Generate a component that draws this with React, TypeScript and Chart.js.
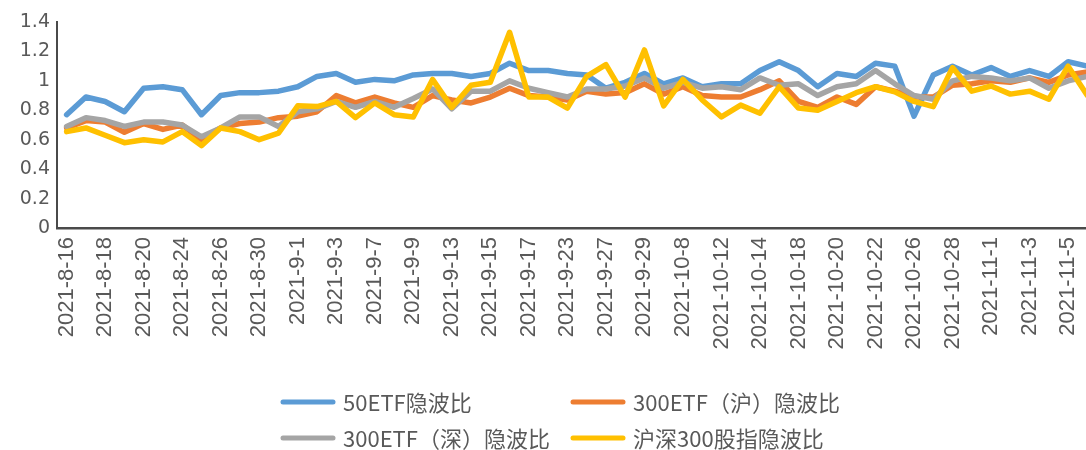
import React, { useEffect, useRef } from 'react';
import { Chart, registerables } from 'chart.js';

Chart.register(...registerables);

const categories = [
  '2021-8-16', '2021-8-17', '2021-8-18', '2021-8-19', '2021-8-20', '2021-8-23', '2021-8-24', '2021-8-25',
  '2021-8-26', '2021-8-27', '2021-8-30', '2021-8-31', '2021-9-1', '2021-9-2', '2021-9-3', '2021-9-6',
  '2021-9-7', '2021-9-8', '2021-9-9', '2021-9-10', '2021-9-13', '2021-9-14', '2021-9-15', '2021-9-16',
  '2021-9-17', '2021-9-22', '2021-9-23', '2021-9-24', '2021-9-27', '2021-9-28', '2021-9-29', '2021-9-30',
  '2021-10-8', '2021-10-11', '2021-10-12', '2021-10-13', '2021-10-14', '2021-10-15', '2021-10-18', '2021-10-19',
  '2021-10-20', '2021-10-21', '2021-10-22', '2021-10-25', '2021-10-26', '2021-10-27', '2021-10-28', '2021-10-29',
  '2021-11-1', '2021-11-2', '2021-11-3', '2021-11-4', '2021-11-5', '2021-11-8',
];

const seriesNames = ['50ETF隐波比', '300ETF（沪）隐波比', '300ETF（深）隐波比', '沪深300股指隐波比'];

const etf50 = [
  0.77, 0.89, 0.86, 0.79, 0.95, 0.96, 0.94, 0.77, 0.90, 0.92, 0.92, 0.93, 0.96, 1.03, 1.05, 0.99,
  1.01, 1.00, 1.04, 1.05, 1.05, 1.03, 1.05, 1.12, 1.07, 1.07, 1.05, 1.04, 0.95, 0.99, 1.05, 0.98,
  1.02, 0.96, 0.98, 0.98, 1.07, 1.13, 1.07, 0.96, 1.05, 1.03, 1.12, 1.10, 0.76, 1.04, 1.10, 1.04,
  1.09, 1.03, 1.07, 1.03, 1.13, 1.10,
];

const etf300sh = [
  0.68, 0.73, 0.72, 0.65, 0.71, 0.67, 0.70, 0.60, 0.68, 0.71, 0.72, 0.75, 0.76, 0.79, 0.90, 0.85,
  0.89, 0.85, 0.82, 0.90, 0.87, 0.85, 0.89, 0.95, 0.90, 0.89, 0.87, 0.93, 0.91, 0.92, 0.98, 0.91,
  0.96, 0.90, 0.89, 0.89, 0.94, 1.00, 0.86, 0.82, 0.89, 0.84, 0.96, 0.93, 0.89, 0.89, 0.97, 0.98,
  1.00, 0.99, 1.02, 0.99, 1.04, 1.06,
];

const etf300sz = [
  0.69, 0.75, 0.73, 0.69, 0.72, 0.72, 0.70, 0.62, 0.68, 0.755, 0.755, 0.69, 0.79, 0.81, 0.86, 0.82,
  0.86, 0.82, 0.88, 0.945, 0.81, 0.93, 0.93, 1.00, 0.95, 0.92, 0.89, 0.945, 0.945, 0.965, 1.02, 0.95,
  0.99, 0.95, 0.96, 0.94, 1.02, 0.97, 0.98, 0.90, 0.96, 0.98, 1.07, 0.98, 0.90, 0.875, 1.00, 1.03,
  1.02, 1.00, 1.02, 0.95, 1.00, 1.03,
];

const csi300 = [
  0.655, 0.68, 0.63, 0.58, 0.60, 0.585, 0.655, 0.56, 0.68, 0.655, 0.60, 0.645, 0.83, 0.825, 0.86, 0.75,
  0.85, 0.77, 0.755, 1.01, 0.82, 0.97, 0.99, 1.33, 0.89, 0.89, 0.815, 1.03, 1.11, 0.89, 1.21, 0.83,
  1.01, 0.87, 0.755, 0.835, 0.78, 0.96, 0.815, 0.80, 0.86, 0.92, 0.96, 0.925, 0.86, 0.825, 1.09, 0.93,
  0.965, 0.91, 0.93, 0.875, 1.10, 0.90,
];

const colors = ['#5B9BD5', '#ED7D31', '#A5A5A5', '#FFC000'];

const gridLegend = {
  id: 'gridLegend',
  afterDraw(chart: any) {
    const ctx = chart.ctx;
    const ds = chart.data.datasets;
    const cols = [280, 570];
    const rows = [402, 438];
    ctx.save();
    ctx.font = '22px "Noto Sans CJK SC"';
    ctx.textBaseline = 'middle';
    ctx.textAlign = 'left';
    ds.forEach((d: any, i: number) => {
      const x = cols[i % 2];
      const y = rows[Math.floor(i / 2)];
      ctx.strokeStyle = d.borderColor;
      ctx.lineWidth = 5;
      ctx.lineCap = 'round';
      ctx.beginPath();
      ctx.moveTo(x + 3, y);
      ctx.lineTo(x + 53, y);
      ctx.stroke();
      ctx.fillStyle = '#595959';
      ctx.fillText(d.label, x + 63, y + 1);
    });
    ctx.restore();
  },
};

export default function App() {
  const ref = useRef<HTMLCanvasElement>(null);

  useEffect(() => {
    if (!ref.current) return;
    const data = [etf50, etf300sh, etf300sz, csi300];
    const chart = new Chart(ref.current, {
      type: 'line',
      data: {
        labels: categories,
        datasets: data.map((vals, i) => ({
          label: seriesNames[i],
          data: vals,
          borderColor: colors[i],
          backgroundColor: colors[i],
          borderWidth: 5.5,
          pointRadius: 0,
          pointHoverRadius: 0,
          tension: 0,
          fill: false,
          borderJoinStyle: 'round' as const,
          borderCapStyle: 'round' as const,
          order: 3 - i,
        })),
      },
      options: {
        animation: false,
        responsive: true,
        maintainAspectRatio: false,
        layout: { padding: { top: 22, right: 0, left: 0, bottom: 82 } },
        plugins: {
          legend: { display: false },
          tooltip: { enabled: false },
        },
        scales: {
          x: {
            type: 'category',
            offset: true,
            grid: { display: false, drawTicks: false },
            border: { display: true, color: '#4a4a4a', width: 2.5 },
            ticks: {
              autoSkip: false,
              maxRotation: 90,
              minRotation: 90,
              padding: 9,
              color: '#595959',
              font: { family: '"Liberation Sans", Arial, sans-serif', size: 22 },
              callback: (_v: any, i: number) => (i % 2 === 0 ? categories[i] : ''),
            },
            afterFit: (s: any) => {
              s.height = 140;
              s.paddingLeft = 0;
              s.paddingRight = 0;
            },
          },
          y: {
            min: 0,
            max: 1.4,
            grid: { display: false, drawTicks: false },
            border: { display: true, color: '#4a4a4a', width: 2 },
            ticks: {
              stepSize: 0.2,
              padding: 7,
              color: '#595959',
              font: { family: '"DejaVu Sans", sans-serif', size: 19 },
              callback: (v: any) => String(Number(Number(v).toFixed(1))),
            },
            afterFit: (s: any) => {
              s.width = 57;
              s.paddingTop = 0;
              s.paddingBottom = 0;
            },
          },
        },
      },
      plugins: [gridLegend],
    });
    return () => chart.destroy();
  }, []);

  return (
    <div style={{ position: 'fixed', left: 0, top: 0, width: 1086, height: 450, overflow: 'hidden', background: '#fff' }}>
      <div style={{ position: 'relative', width: 1097, height: 450 }}>
        <canvas ref={ref} />
      </div>
    </div>
  );
}
